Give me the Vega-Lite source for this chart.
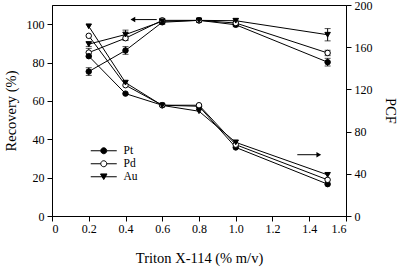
{
  "$schema": "https://vega.github.io/schema/vega-lite/v6.json",
  "width": 294,
  "height": 211,
  "autosize": {"type": "none"},
  "padding": {"left": 52, "top": 5, "right": 54, "bottom": 51},
  "background": "white",
  "config": {
    "font": "Liberation Serif",
    "view": {"stroke": "black", "strokeWidth": 1},
    "axis": {
      "grid": false,
      "domainColor": "black",
      "tickColor": "black",
      "tickSize": 5,
      "labelColor": "black",
      "titleColor": "black",
      "labelFont": "Liberation Serif",
      "titleFont": "Liberation Serif",
      "labelFontSize": 12,
      "titleFontSize": 14.5,
      "titleFontWeight": "normal"
    },
    "legend": {
      "labelFont": "Liberation Serif",
      "labelFontSize": 11.5,
      "labelColor": "black"
    }
  },
  "datasets": {
    "main": [
      {"type": "Recovery", "metal": "Pt", "x": 0.2, "value": 75.3, "err": 2.0},
      {"type": "Recovery", "metal": "Pt", "x": 0.4, "value": 86.3, "err": 2.0},
      {"type": "Recovery", "metal": "Pt", "x": 0.6, "value": 101.0, "err": 1.0},
      {"type": "Recovery", "metal": "Pt", "x": 0.8, "value": 102.0, "err": 0.8},
      {"type": "Recovery", "metal": "Pt", "x": 1.0, "value": 99.7, "err": 1.0},
      {"type": "Recovery", "metal": "Pt", "x": 1.5, "value": 80.2, "err": 2.0},
      {"type": "Recovery", "metal": "Pd", "x": 0.2, "value": 85.2, "err": 2.2},
      {"type": "Recovery", "metal": "Pd", "x": 0.4, "value": 92.7, "err": 1.2},
      {"type": "Recovery", "metal": "Pd", "x": 0.6, "value": 102.0, "err": 1.0},
      {"type": "Recovery", "metal": "Pd", "x": 0.8, "value": 102.0, "err": 0.8},
      {"type": "Recovery", "metal": "Pd", "x": 1.0, "value": 100.6, "err": 1.0},
      {"type": "Recovery", "metal": "Pd", "x": 1.5, "value": 85.0, "err": 1.4},
      {"type": "Recovery", "metal": "Au", "x": 0.2, "value": 89.6, "err": 1.2},
      {"type": "Recovery", "metal": "Au", "x": 0.4, "value": 94.6, "err": 2.3},
      {"type": "Recovery", "metal": "Au", "x": 0.6, "value": 101.5, "err": 1.0},
      {"type": "Recovery", "metal": "Au", "x": 0.8, "value": 102.0, "err": 0.8},
      {"type": "Recovery", "metal": "Au", "x": 1.0, "value": 101.8, "err": 1.0},
      {"type": "Recovery", "metal": "Au", "x": 1.5, "value": 94.5, "err": 3.2},
      {"type": "PCF", "metal": "Pt", "x": 0.2, "value": 151.5, "err": 0},
      {"type": "PCF", "metal": "Pt", "x": 0.4, "value": 116.0, "err": 0},
      {"type": "PCF", "metal": "Pt", "x": 0.6, "value": 105.0, "err": 0},
      {"type": "PCF", "metal": "Pt", "x": 0.8, "value": 104.0, "err": 0},
      {"type": "PCF", "metal": "Pt", "x": 1.0, "value": 65.0, "err": 0},
      {"type": "PCF", "metal": "Pt", "x": 1.5, "value": 30.2, "err": 0},
      {"type": "PCF", "metal": "Pd", "x": 0.2, "value": 170.8, "err": 0},
      {"type": "PCF", "metal": "Pd", "x": 0.4, "value": 124.0, "err": 0},
      {"type": "PCF", "metal": "Pd", "x": 0.6, "value": 105.0, "err": 0},
      {"type": "PCF", "metal": "Pd", "x": 0.8, "value": 105.0, "err": 0},
      {"type": "PCF", "metal": "Pd", "x": 1.0, "value": 67.6, "err": 0},
      {"type": "PCF", "metal": "Pd", "x": 1.5, "value": 34.3, "err": 0},
      {"type": "PCF", "metal": "Au", "x": 0.2, "value": 179.8, "err": 0},
      {"type": "PCF", "metal": "Au", "x": 0.4, "value": 126.4, "err": 0},
      {"type": "PCF", "metal": "Au", "x": 0.6, "value": 104.8, "err": 0},
      {"type": "PCF", "metal": "Au", "x": 0.8, "value": 99.3, "err": 0},
      {"type": "PCF", "metal": "Au", "x": 1.0, "value": 69.8, "err": 0},
      {"type": "PCF", "metal": "Au", "x": 1.5, "value": 39.0, "err": 0}
    ],
    "arrows": [
      {"type": "Recovery", "x": 0.44, "x2": 0.57, "value": 102.4, "hx": 0.44, "dir": "left"},
      {"type": "PCF", "x": 1.335, "x2": 1.452, "value": 58.1, "hx": 1.452, "dir": "right"}
    ]
  },
  "layer": [
    {
      "encoding": {
        "x": {
          "field": "x", "type": "quantitative",
          "scale": {"domain": [0, 1.6], "nice": false, "zero": false},
          "axis": {
            "title": "Triton X-114 (% m/v)",
            "values": [0, 0.2, 0.4, 0.6, 0.8, 1.0, 1.2, 1.4, 1.6],
            "labelExpr": "datum.value === 0 ? '0' : format(datum.value, '.1f')",
            "labelPadding": 2,
            "titlePadding": 17
          }
        },
        "y": {
          "field": "value", "type": "quantitative",
          "scale": {"domain": [0, 110], "nice": false},
          "axis": {
            "title": "Recovery (%)",
            "orient": "left",
            "values": [0, 20, 40, 60, 80, 100],
            "labelPadding": 3,
            "titlePadding": 8
          }
        }
      },
      "layer": [
        {
          "data": {"name": "main"},
          "transform": [{"filter": "datum.type === 'Recovery'"}],
          "mark": {"type": "line", "color": "black", "strokeWidth": 1},
          "encoding": {"detail": {"field": "metal", "type": "nominal"}}
        },
        {
          "data": {"name": "main"},
          "transform": [{"filter": "datum.type === 'Recovery' && datum.err > 0"}],
          "mark": {"type": "errorbar", "color": "black", "ticks": {"size": 6, "color": "black"}, "rule": {"strokeWidth": 1}},
          "encoding": {"yError": {"field": "err"}}
        },
        {
          "data": {"name": "main"},
          "transform": [{"filter": "datum.type === 'Recovery'"}],
          "mark": {"type": "point", "filled": true, "stroke": "black", "strokeWidth": 1, "size": 30, "opacity": 1},
          "encoding": {
            "fill": {
              "field": "metal", "type": "nominal", "legend": null,
              "scale": {"domain": ["Pt", "Pd", "Au"], "range": ["black", "white", "black"]}
            },
            "shape": {
              "field": "metal", "type": "nominal", "legend": null,
              "scale": {"domain": ["Pt", "Pd", "Au"], "range": ["circle", "circle", "triangle-down"]}
            }
          }
        },
        {
          "data": {"name": "arrows"},
          "transform": [{"filter": "datum.type === 'Recovery'"}],
          "mark": {"type": "rule", "color": "black", "strokeWidth": 1},
          "encoding": {"x2": {"field": "x2"}}
        },
        {
          "data": {"name": "arrows"},
          "transform": [{"filter": "datum.type === 'Recovery'"}],
          "mark": {"type": "point", "shape": "triangle-left", "filled": true, "color": "black", "size": 30, "opacity": 1},
          "encoding": {"x": {"field": "hx", "type": "quantitative"}}
        }
      ]
    },
    {
      "encoding": {
        "x": {
          "field": "x", "type": "quantitative",
          "scale": {"domain": [0, 1.6], "nice": false, "zero": false},
          "axis": {
            "title": "Triton X-114 (% m/v)",
            "values": [0, 0.2, 0.4, 0.6, 0.8, 1.0, 1.2, 1.4, 1.6],
            "labelExpr": "datum.value === 0 ? '0' : format(datum.value, '.1f')",
            "labelPadding": 2,
            "titlePadding": 17
          }
        },
        "y": {
          "field": "value", "type": "quantitative",
          "scale": {"domain": [0, 200], "nice": false},
          "axis": {
            "title": "PCF",
            "orient": "right",
            "values": [0, 40, 80, 120, 160, 200],
            "labelPadding": 3,
            "titlePadding": 10
          }
        }
      },
      "layer": [
        {
          "data": {"name": "main"},
          "transform": [{"filter": "datum.type === 'PCF'"}],
          "mark": {"type": "line", "color": "black", "strokeWidth": 1},
          "encoding": {"detail": {"field": "metal", "type": "nominal"}}
        },
        {
          "data": {"name": "main"},
          "transform": [{"filter": "datum.type === 'PCF'"}],
          "mark": {"type": "point", "filled": true, "stroke": "black", "strokeWidth": 1, "size": 30, "opacity": 1},
          "encoding": {
            "fill": {
              "field": "metal", "type": "nominal", "legend": null,
              "scale": {"domain": ["Pt", "Pd", "Au"], "range": ["black", "white", "black"]}
            },
            "shape": {
              "field": "metal", "type": "nominal", "legend": null,
              "scale": {"domain": ["Pt", "Pd", "Au"], "range": ["circle", "circle", "triangle-down"]}
            }
          }
        },
        {
          "data": {"name": "arrows"},
          "transform": [{"filter": "datum.type === 'PCF'"}],
          "mark": {"type": "rule", "color": "black", "strokeWidth": 1},
          "encoding": {"x2": {"field": "x2"}}
        },
        {
          "data": {"name": "arrows"},
          "transform": [{"filter": "datum.type === 'PCF'"}],
          "mark": {"type": "point", "shape": "triangle-right", "filled": true, "color": "black", "size": 30, "opacity": 1},
          "encoding": {"x": {"field": "hx", "type": "quantitative"}}
        }
      ]
    },
    {
      "data": {"name": "main"},
      "transform": [{"filter": "false"}],
      "mark": {"type": "point", "filled": true, "opacity": 1},
      "encoding": {
        "fill": {
          "field": "metal", "type": "nominal",
          "scale": {"domain": ["Pt", "Pd", "Au"], "range": ["black", "white", "black"]},
          "legend": {"title": null, "orient": "none", "legendX": 46, "legendY": 140, "padding": 0, "symbolSize": 100, "labelOffset": 14, "rowPadding": 0, "symbolStrokeWidth": 1, "symbolOpacity": 1}
        },
        "stroke": {
          "field": "metal", "type": "nominal",
          "scale": {"domain": ["Pt", "Pd", "Au"], "range": ["black", "black", "black"]},
          "legend": {"title": null, "orient": "none", "legendX": 46, "legendY": 140, "padding": 0, "symbolSize": 100, "labelOffset": 14, "rowPadding": 0, "symbolStrokeWidth": 1, "symbolOpacity": 1}
        },
        "shape": {
          "field": "metal", "type": "nominal",
          "scale": {"domain": ["Pt", "Pd", "Au"], "range": [
            "M-2.6,0L-0.6,0M0.6,0L2.6,0M-0.6,0A0.6,0.6,0,1,1,0.6,0A0.6,0.6,0,1,1,-0.6,0Z",
            "M-2.6,0L-0.6,0M0.6,0L2.6,0M-0.6,0A0.6,0.6,0,1,1,0.6,0A0.6,0.6,0,1,1,-0.6,0Z",
            "M-2.6,0L2.6,0M-0.65,-0.56L0.65,-0.56L0,0.56Z"
          ]},
          "legend": {"title": null, "orient": "none", "legendX": 46, "legendY": 140, "padding": 0, "symbolSize": 100, "labelOffset": 14, "rowPadding": 0, "symbolStrokeWidth": 1, "symbolOpacity": 1}
        }
      }
    }
  ],
  "resolve": {"scale": {"y": "independent", "fill": "independent", "shape": "independent", "stroke": "independent"}}
}
